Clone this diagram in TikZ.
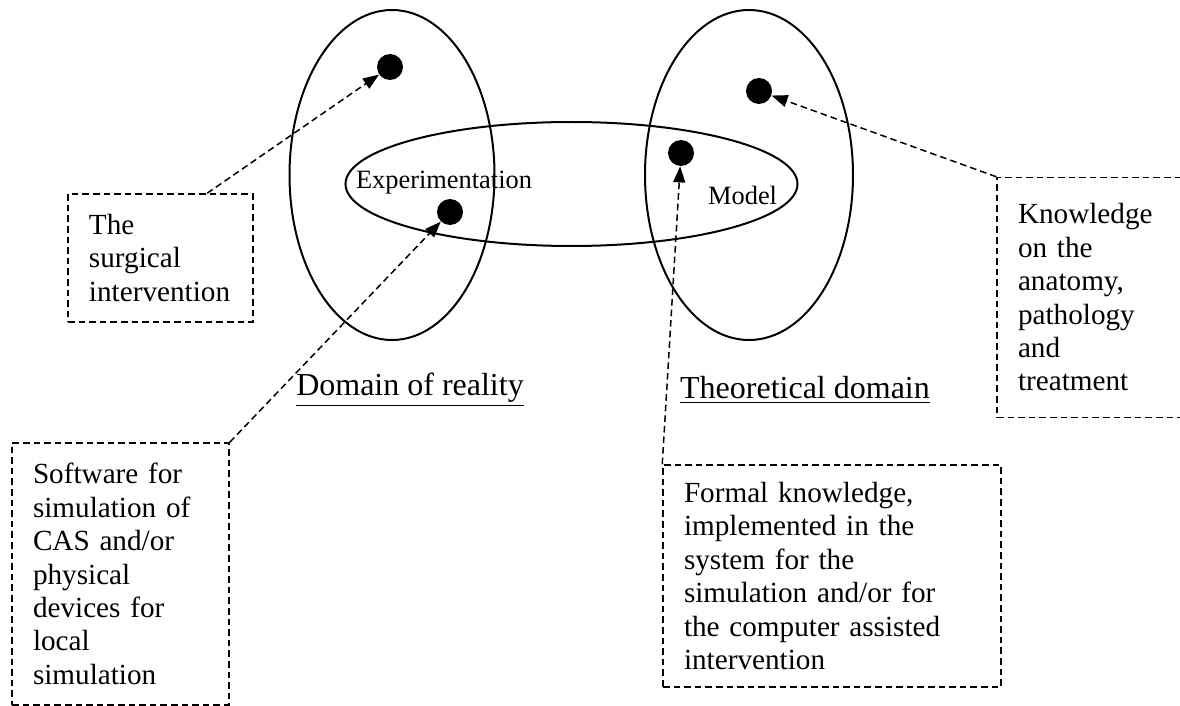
\documentclass[tikz,border=0pt]{standalone}
\usepackage{fontspec}
\setmainfont{Liberation Serif}
\usetikzlibrary{arrows.meta,calc}
\begin{document}
\begin{tikzpicture}[x=0.5pt,y=-0.5pt,
  ell/.style={line width=1pt},
  dot/.style={circle,fill=black,inner sep=0pt,minimum size=13pt},
  inlabel/.style={inner sep=0pt,font=\fontsize{13.2}{15}\selectfont},
  domlabel/.style={inner sep=0pt,font=\fontsize{16}{18}\selectfont},
  notebox/.style={draw,line width=0.75pt,dash pattern=on 3.3pt off 2pt,
    inner xsep=10.5pt,inner ysep=0pt,align=left,
    font=\fontsize{14.6}{16.7}\selectfont},
  conn/.style={line width=0.75pt,dash pattern=on 3.3pt off 2pt,
    -{Triangle[length=8pt,width=6pt]}}]
\useasboundingbox (0,0) rectangle (1180,706);
% ellipses
\draw[ell] (392,175) ellipse [x radius=51.25pt, y radius=82.5pt];
\draw[ell] (749,175) ellipse [x radius=52pt, y radius=82.5pt];
\draw[ell] (571.5,184) ellipse [x radius=113pt, y radius=31pt];
% dots
\node[dot] (d1) at (390,67) {};
\node[dot] (d2) at (450,212) {};
\node[dot] (d3) at (681,153) {};
\node[dot] (d4) at (759,91) {};
% labels
\node[inlabel] (exp) at (444,183) {Experimentation};
\node[inlabel] (mod) at (742.6,195) {Model};
\node[domlabel] (dr) at (410,390) {\underline{Domain of reality}};
\node[domlabel] (td) at (805,390) {\underline{Theoretical domain}};
% boxes
\node[notebox,text width=71.5pt,minimum height=64pt] (surg) at (160.5,258)
  {The\\surgical\\intervention};
\node[notebox,text width=87.5pt,minimum height=131pt] (soft) at (120.5,574)
  {Software for\\simulation of\\CAS and/or\\physical\\devices for\\local\\simulation};
\node[notebox,text width=148pt,minimum height=111pt] (form) at (832,576)
  {Formal knowledge,\\implemented in the\\system for the\\simulation and/or for\\the computer assisted\\intervention};
\begin{scope}
\clip (0,0) rectangle (1180,706);
\node[notebox,text width=79pt,minimum height=120pt] (know) at (1097,297.5)
  {Knowledge\\on the\\anatomy,\\pathology\\and\\treatment};
\end{scope}
% connectors
\draw[conn] ($(surg.north west)!0.75!(surg.north east)$) -- (d1);
\draw[conn] (soft.north east) -- (d2);
\draw[conn] (form.north west) -- (d3);
\draw[conn] (know.north west) -- (d4);
\end{tikzpicture}
\end{document}
